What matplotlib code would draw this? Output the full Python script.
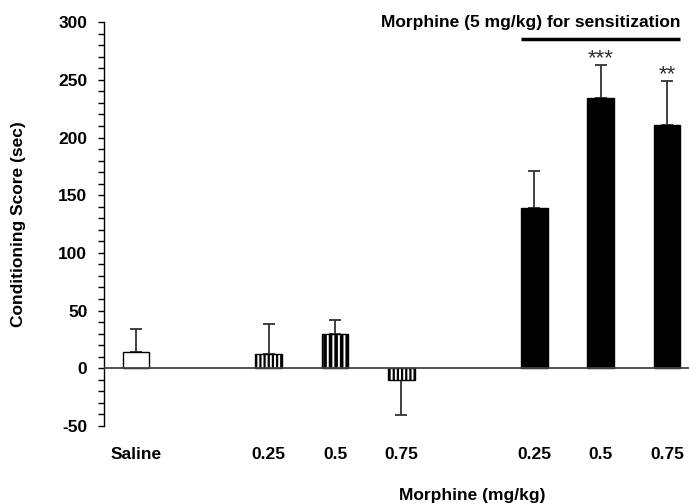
import matplotlib
matplotlib.use("Agg")
import matplotlib.pyplot as plt
import numpy as np

plt.rcParams['font.family'] = ['Liberation Sans', 'DejaVu Sans']
plt.rcParams['axes.unicode_minus'] = False

labels = ["Saline", "0.25", "0.5", "0.75", "0.25", "0.5", "0.75"]
positions = [0, 2, 3, 4, 6, 7, 8]
means = [14, 12, 30, -10, 139, 234, 211]
errors = [20, 26, 12, -31, 32, 29, 38]   # one-sided SEM (sign gives direction)
stars = ["", "", "", "", "", "***", "**"]

fig = plt.figure(figsize=(6.89, 5.04), dpi=100)
ax = fig.add_axes([0.151, 0.155, 0.849, 0.801])

FS = 12.5
width = 0.4
styles = [
    dict(color="white", hatch=None, hlw=1.0),
    dict(color="white", hatch="||||", hlw=1.6),
    dict(color="white", hatch="|||", hlw=2.6),
    dict(color="white", hatch="||||", hlw=1.6),
    dict(color="black", hatch=None, hlw=1.0),
    dict(color="black", hatch=None, hlw=1.0),
    dict(color="black", hatch=None, hlw=1.0),
]

for x, m, e, st, s in zip(positions, means, errors, styles, stars):
    with plt.rc_context({'hatch.linewidth': st['hlw']}):
        ax.bar(x, m, width=width, color=st['color'], edgecolor="black",
               linewidth=1.0, hatch=st['hatch'], zorder=2)
    if e >= 0:
        yerr = [[0], [e]]
    else:
        yerr = [[-e], [0]]
    ax.errorbar(x, m, yerr=yerr, fmt="none", ecolor="#333333",
                elinewidth=1.3, capsize=4, capthick=1.3, zorder=1)
    if s:
        ax.text(x, m + e - 4, s, ha="center", va="bottom", fontsize=16,
                color="#333333")

ax.axhline(0, color="#444444", linewidth=1.3, zorder=3)

ax.set_xlim(-0.48, 8.33)
ax.set_ylim(-50, 300)
ax.set_yticks(np.arange(-50, 301, 50))
ax.set_yticks(np.arange(-50, 301, 10), minor=True)
ax.tick_params(axis="y", which="both", direction="out", length=4, width=1,
               labelsize=FS, pad=8)
for t in ax.get_yticklabels():
    t.set_fontweight("bold")

ax.set_xticks(positions)
ax.set_xticklabels(labels, fontsize=FS, fontweight="bold")
ax.tick_params(axis="x", length=0, pad=15)

for sp in ["top", "right", "bottom"]:
    ax.spines[sp].set_visible(False)
ax.spines["left"].set_linewidth(1.0)

ax.set_ylabel("Conditioning Score (sec)", fontsize=FS, fontweight="bold")
ax.yaxis.set_label_coords(-0.133, 0.5)
ax.set_xlabel("Morphine (mg/kg)", fontsize=FS, fontweight="bold")
ax.xaxis.set_label_coords(5.07 / 8.81 + 0.0545, -0.153)

ax.text(8.2, 300, "Morphine (5 mg/kg) for sensitization", ha="right",
        va="center", fontsize=FS, fontweight="bold", clip_on=False)
ax.plot([5.8, 8.2], [285, 285], color="black", linewidth=2.5,
        clip_on=False, solid_capstyle="butt")

fig.savefig("out.png", dpi=100)
